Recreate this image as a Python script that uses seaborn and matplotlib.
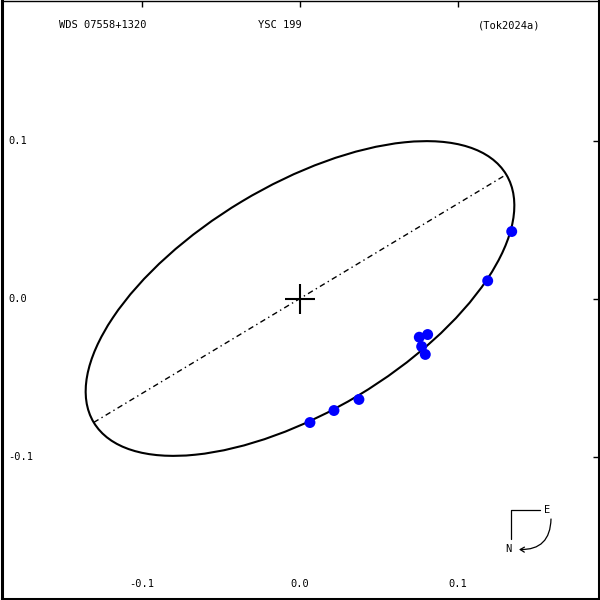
import numpy as np
import pandas as pd
import matplotlib
matplotlib.use("Agg")
import matplotlib.pyplot as plt
import matplotlib.transforms as mtransforms
from matplotlib.patches import Ellipse, FancyArrowPatch
import seaborn as sns

# ---- data (arcsec) ----
obs_x = [0.1340, 0.1188, 0.0755, 0.0808, 0.0770, 0.0793, 0.0373, 0.0215, 0.0063]
obs_y = [0.0424, 0.0112, -0.0245, -0.0228, -0.0304, -0.0354, -0.0639, -0.0709, -0.0785]

orbit_a = 0.1523      # apparent semi-major axis
orbit_b = 0.0716      # apparent semi-minor axis
orbit_angle = 31.0    # degrees
orbit_center = (0.0, 0.0)

tick_vals = [-0.1, 0.0, 0.1]
tick_labels = ["-0.1", "0.0", "0.1"]

title_left = "WDS 07558+1320"
title_mid = "YSC 199"
title_right = "(Tok2024a)"

sns.set_style("white")
plt.rcParams["font.family"] = ["DejaVu Sans Mono", "DejaVu Sans"]
plt.rcParams["axes.unicode_minus"] = False
plt.rcParams["text.color"] = "black"

W = H = 600
fig = plt.figure(figsize=(6, 6), dpi=100)
ax = fig.add_axes([1.5 / W, 1.5 / H, 597 / W, 598 / H])

scale = 1580.0  # px per arcsec
ax.set_xlim((1.5 - 300) / scale, (598.5 - 300) / scale)
ax.set_ylim((298.5 - 598.5) / scale, (298.5 - 0.5) / scale)

df = pd.DataFrame({"x": obs_x, "y": obs_y})

# orbit ellipse
ell = Ellipse(orbit_center, 2 * orbit_a, 2 * orbit_b, angle=orbit_angle,
              fill=False, edgecolor="black", linewidth=1.5, zorder=2)
ax.add_patch(ell)

# line of apsides
th = np.deg2rad(orbit_angle)
ax.plot([-orbit_a * np.cos(th), orbit_a * np.cos(th)],
        [-orbit_a * np.sin(th), orbit_a * np.sin(th)],
        color="black", linewidth=1.0, dashes=(4, 2.5, 1, 2.5), zorder=2)

# primary
ax.plot([0], [0], marker="+", markersize=21.6, markeredgewidth=1.5,
        color="black", linestyle="none", zorder=3)

sns.scatterplot(data=df, x="x", y="y", color="#0000ff", s=62,
                edgecolor="none", linewidth=0, ax=ax, zorder=4)

ax.set_xlabel("")
ax.set_ylabel("")
ax.set_xticks(tick_vals)
ax.set_xticklabels(tick_labels)
ax.set_yticks(tick_vals)
ax.set_yticklabels(tick_labels)
ax.tick_params(axis="both", direction="in", length=4, width=1, color="black",
               top=True, right=True, labelsize=7.5, labelcolor="black")
ax.tick_params(axis="x", pad=-7)
ax.tick_params(axis="y", pad=-5)
for lab in ax.get_xticklabels():
    lab.set_va("bottom")
for lab in ax.get_yticklabels():
    lab.set_ha("left")

for side in ["left", "bottom", "right"]:
    ax.spines[side].set_linewidth(2.2)
    ax.spines[side].set_color("black")
ax.spines["top"].set_linewidth(1.0)
ax.spines["top"].set_color("black")

# pixel transform (origin top-left)
pix = mtransforms.Affine2D().scale(1 / W, -1 / H).translate(0, 1) + fig.transFigure

fig.text(59, 25, title_left, transform=pix, ha="left", va="center", fontsize=7.5, color="black")
fig.text(280, 25, title_mid, transform=pix, ha="center", va="center", fontsize=7.5, color="black")
fig.text(540, 25, title_right, transform=pix, ha="right", va="center", fontsize=7.5, color="black")

# compass
fig.add_artist(plt.Line2D([540, 511, 511], [509.5, 509.5, 539], transform=pix,
                          color="black", linewidth=0.9))
fig.text(547.5, 510, "E", transform=pix, ha="center", va="center", fontsize=7.5, color="black")
fig.text(508.5, 548.5, "N", transform=pix, ha="center", va="center", fontsize=7.5, color="black")
arr = FancyArrowPatch((551, 519), (519, 549.5), transform=pix,
                      arrowstyle="->,head_length=3,head_width=1.8",
                      connectionstyle="arc3,rad=-0.5",
                      color="black", linewidth=0.9, shrinkA=0, shrinkB=0)
fig.add_artist(arr)

fig.savefig("out.png", dpi=100)
